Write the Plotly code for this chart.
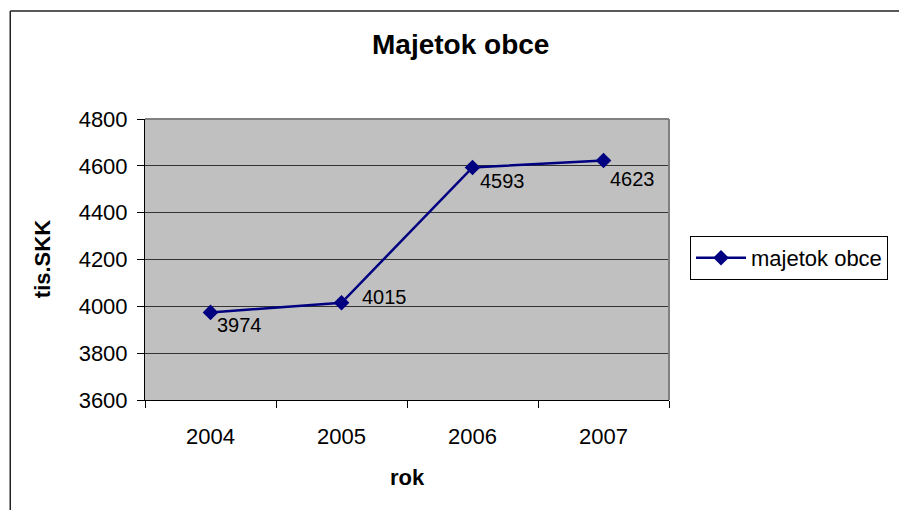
import plotly.graph_objects as go

# data
years = ['2004', '2005', '2006', '2007']
majetok = [3974, 4015, 4593, 4623]
series_name = 'majetok obce'

# label offsets (px) so the labels sit like the original Excel chart
label_dx = [4, 18, 5, 4]
label_dy = [-13, 6, -14, -19]

FONT = 'Liberation Sans, Arial, sans-serif'
NAVY = '#000080'

# plot area edges in pixels
L, R, T, B = 145, 670, 119, 400


def px_x(px):
    return (px - L) / (R - L)


def px_y(py):
    return (B - py) / (B - T)


fig = go.Figure()

fig.add_trace(go.Scatter(
    x=years,
    y=majetok,
    name=series_name,
    mode='lines+markers',
    line=dict(color=NAVY, width=2.5),
    marker=dict(symbol='diamond', size=12, color=NAVY),
))

annotations = []
for i, (val, dx, dy) in enumerate(zip(majetok, label_dx, label_dy)):
    annotations.append(dict(
        x=i, y=val, xref='x', yref='y',
        text=str(val), showarrow=False,
        xanchor='left', yanchor='middle',
        xshift=dx, yshift=dy,
        font=dict(size=20, color='black', family=FONT),
    ))

# chart title and axis titles
annotations += [
    dict(text='<b>Majetok obce</b>', x=px_x(461), y=px_y(44),
         xref='paper', yref='paper', showarrow=False,
         xanchor='center', yanchor='middle',
         font=dict(size=28, color='black', family=FONT)),
    dict(text='<b>tis.SKK</b>', x=px_x(42), y=px_y(259),
         xref='paper', yref='paper', showarrow=False, textangle=-90,
         xanchor='center', yanchor='middle',
         font=dict(size=22, color='black', family=FONT)),
    dict(text='<b>rok</b>', x=px_x(408), y=px_y(477),
         xref='paper', yref='paper', showarrow=False,
         xanchor='center', yanchor='middle',
         font=dict(size=22, color='black', family=FONT)),
]

shapes = [
    # gray plot area border (top and right)
    dict(type='line', xref='paper', yref='paper', x0=0, x1=1, y0=1, y1=1,
         line=dict(color='#808080', width=2)),
    dict(type='line', xref='paper', yref='paper', x0=1, x1=1, y0=0, y1=1,
         line=dict(color='#808080', width=2)),
    # outer chart frame (left and top edges visible)
    dict(type='line', xref='paper', yref='paper',
         x0=px_x(10), x1=px_x(10), y0=px_y(11), y1=px_y(560),
         line=dict(color='#222', width=1.5)),
    dict(type='line', xref='paper', yref='paper',
         x0=px_x(10), x1=px_x(960), y0=px_y(11), y1=px_y(11),
         line=dict(color='#222', width=1.5)),
]

fig.update_layout(
    width=899,
    height=510,
    margin=dict(l=L, r=899 - R, t=T, b=510 - B),
    paper_bgcolor='white',
    plot_bgcolor='#C0C0C0',
    font=dict(family=FONT, size=22, color='black'),
    showlegend=True,
    legend=dict(
        x=px_x(690), y=px_y(258), xanchor='left', yanchor='middle',
        bgcolor='white', bordercolor='black', borderwidth=1,
        font=dict(size=22, family=FONT),
        itemwidth=50,
    ),
    xaxis=dict(
        type='category',
        range=[-0.5, len(years) - 0.5],
        showgrid=False,
        showline=True, linecolor='black', linewidth=1,
        ticks='outside', ticklen=7, tickcolor='black',
        tickson='boundaries',
        ticklabelstandoff=17,
        tickangle=0,
        tickfont=dict(size=22),
        zeroline=False,
    ),
    yaxis=dict(
        range=[3600, 4800],
        dtick=200,
        showgrid=True, gridcolor='#333', gridwidth=1,
        showline=True, linecolor='black', linewidth=1,
        ticks='outside', ticklen=7, tickcolor='black',
        ticklabelstandoff=5,
        tickfont=dict(size=22),
        zeroline=False,
    ),
    annotations=annotations,
    shapes=shapes,
)

fig.write_html(
    'out.html',
    config={'displayModeBar': False},
    post_script="document.body.style.margin='0';document.body.style.overflow='hidden';",
)
